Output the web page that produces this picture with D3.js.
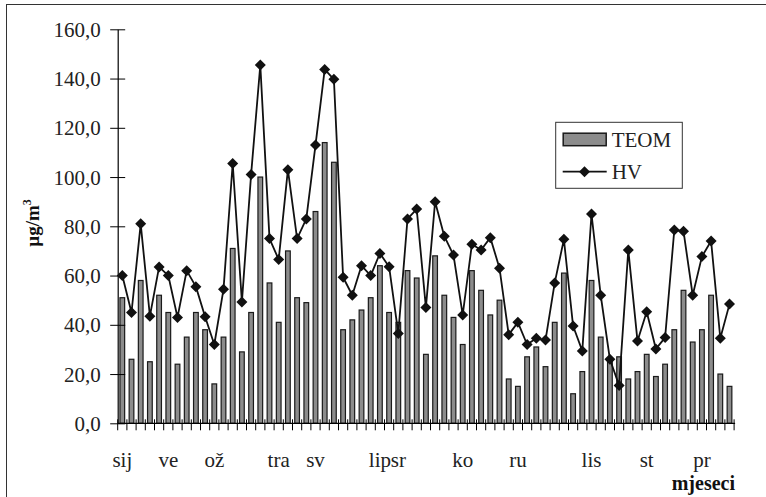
<!DOCTYPE html>
<html>
<head>
<meta charset="utf-8">
<script src="https://cdn.jsdelivr.net/npm/d3@7/dist/d3.min.js"></script>
<style>
  html, body { margin: 0; padding: 0; background: #fff; }
  svg { display: block; }
  svg text { font-family: "Liberation Serif", "Times New Roman", serif; }
</style>
</head>
<body>
<svg id="chart" width="766" height="497"></svg>
<script>
// Daily measurements (µg/m³), one value per sampling day
const days = d3.range(1, 68);
const teom = [51,26,58,25,52,45,24,35,45,38,16,35,71,29,45,100,57,41,70,51,
              49,86,114,106,38,42,46,51,64,45,41,62,59,28,68,52,43,32,62,54,
              44,50,18,15,27,31,23,41,61,12,21,58,35,26,27,18,21,28,19,24,
              38,54,33,38,52,20,15];
const hv = [60,45,81,43.5,63.5,60,43,62,55.5,43.3,32,54.4,105.5,49.3,101,145.5,75,66.5,103,75,
            83,113,143.7,139.7,59.3,52,64,60,69,63.6,36.5,83,87,47,90,76,68.3,44,72.7,70.4,
            75.4,63,36,41,32,34.5,33.8,57,74.7,39.5,29.4,85,52,26,15.4,70.4,33.4,45.3,30.2,34.8,
            78.5,78,52,67.7,74,34.5,48.4];
// Month labels and the day they sit under
const monthLabels = ["sij","ve","ož","tra","sv","lip","sr","ko","ru","lis","st","pr"];
const monthDays   = [1, 6, 11, 18, 22, 29, 31, 38, 44, 52, 58, 64];
const yTicks = [0,20,40,60,80,100,120,140,160];

const svg = d3.select("#chart");

// outer frame
svg.append("rect")
  .attr("x", 6.5).attr("y", 4.5).attr("width", 900).attr("height", 700)
  .attr("fill", "none").attr("stroke", "#333").attr("stroke-width", 1);

const plotLeft = 117.7, plotRight = 734.1, plotTop = 29.3, plotBottom = 423.3;

const x = d3.scaleBand().domain(days).range([plotLeft, plotRight])
  .paddingInner(0.38).paddingOuter(0.19);
const y = d3.scaleLinear().domain([0, 160]).range([plotBottom, plotTop]);
const step = x.step();

// bars
svg.append("g").selectAll("rect").data(days).join("rect")
  .attr("x", d => x(d) + 0.5)
  .attr("y", (d, i) => y(teom[i]))
  .attr("width", x.bandwidth() - 1)
  .attr("height", (d, i) => plotBottom - y(teom[i]))
  .attr("fill", "#8c8c8c")
  .attr("stroke", "#1a1a1a")
  .attr("stroke-width", 1.2);

// y axis
const yAxis = svg.append("g")
  .attr("transform", `translate(${plotLeft},0)`)
  .call(d3.axisLeft(y).tickValues(yTicks)
    .tickFormat(d => d.toFixed(1).replace(".", ","))
    .tickSizeOuter(0))
  .attr("font-family", null).attr("font-size", null);
yAxis.select(".domain").attr("stroke", "#000").attr("stroke-width", 1.2);
yAxis.selectAll(".tick line").attr("x1", -7.5).attr("x2", 7.5).attr("stroke", "#000");
yAxis.selectAll(".tick text")
  .attr("x", -17).attr("dy", "0.34em")
  .style("font-size", "21px").attr("fill", "#222");

// x axis line and boundary ticks
const xg = svg.append("g");
xg.append("line")
  .attr("x1", plotLeft).attr("x2", plotRight + 1)
  .attr("y1", plotBottom).attr("y2", plotBottom)
  .attr("stroke", "#000").attr("stroke-width", 1.2);
const bounds = days.map(d => x(d) + x.bandwidth() / 2 - step / 2).concat([plotRight]);
xg.selectAll("line.tk").data(bounds).join("line").attr("class", "tk")
  .attr("x1", d => d).attr("x2", d => d)
  .attr("y1", plotBottom - 4).attr("y2", plotBottom + 7)
  .attr("stroke", "#000").attr("stroke-width", 1);

// month labels
xg.selectAll("text.mon").data(monthLabels).join("text").attr("class", "mon")
  .attr("x", (d, i) => x(monthDays[i]) + x.bandwidth() / 2)
  .attr("y", 466.5)
  .attr("text-anchor", "middle")
  .style("font-size", "21px").attr("fill", "#222")
  .text(d => d);

// HV line with diamond markers
const cx = i => x(days[i]) + x.bandwidth() / 2;
svg.append("path")
  .datum(hv)
  .attr("d", d3.line().x((d, i) => cx(i)).y(d => y(d)))
  .attr("fill", "none").attr("stroke", "#111").attr("stroke-width", 1.8)
  .attr("stroke-linejoin", "round");
const diamond = "M0,-5.5L5.5,0L0,5.5L-5.5,0Z";
svg.append("g").selectAll("path").data(hv).join("path")
  .attr("d", diamond)
  .attr("transform", (d, i) => `translate(${cx(i)},${y(d)})`)
  .attr("fill", "#111");

// axis titles
const yt = svg.append("text")
  .attr("transform", "translate(39,223) rotate(-90)")
  .attr("text-anchor", "middle")
  .style("font-size", "19px").attr("font-weight", "bold").attr("fill", "#111");
yt.append("tspan").text("µg/m");
yt.append("tspan").style("font-size", "12px").attr("dy", -8).text("3");

svg.append("text")
  .attr("x", 735).attr("y", 490)
  .attr("text-anchor", "end")
  .style("font-size", "20px").attr("font-weight", "bold").attr("fill", "#111")
  .text("mjeseci");

// legend
const lg = svg.append("g");
lg.append("rect")
  .attr("x", 555.7).attr("y", 122.3).attr("width", 126.6).attr("height", 66)
  .attr("fill", "#fff").attr("stroke", "#333").attr("stroke-width", 1);
lg.append("rect")
  .attr("x", 563.2).attr("y", 133.2).attr("width", 43).attr("height", 12.5)
  .attr("fill", "#8c8c8c").attr("stroke", "#1a1a1a").attr("stroke-width", 1.5);
lg.append("text").attr("x", 611.7).attr("y", 146.5)
  .style("font-size", "21px").attr("fill", "#222").text("TEOM");
lg.append("line")
  .attr("x1", 562.7).attr("x2", 606.7).attr("y1", 171.7).attr("y2", 171.7)
  .attr("stroke", "#111").attr("stroke-width", 1.8);
lg.append("path").attr("d", diamond)
  .attr("transform", "translate(584.5,171.7)").attr("fill", "#111");
lg.append("text").attr("x", 611.7).attr("y", 178.5)
  .style("font-size", "21px").attr("fill", "#222").text("HV");
</script>
</body>
</html>
